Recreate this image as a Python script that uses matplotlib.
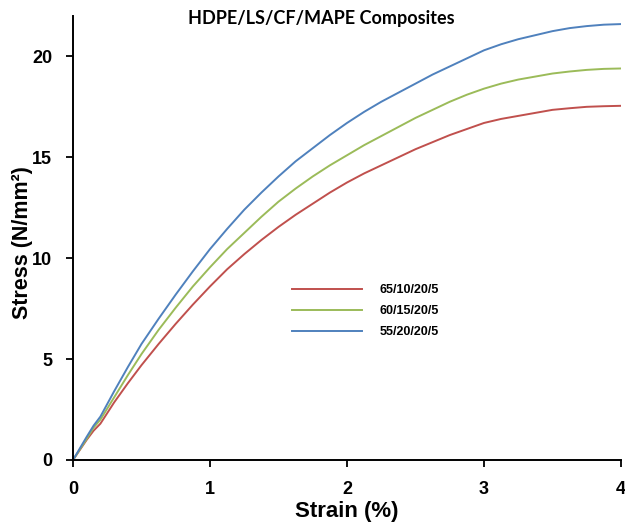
import matplotlib
matplotlib.use("Agg")
import matplotlib.pyplot as plt

strain = [0, 0.1, 0.15, 0.2, 0.3, 0.4, 0.5, 0.625, 0.75, 0.875, 1.0, 1.125, 1.25,
          1.375, 1.5, 1.625, 1.75, 1.875, 2.0, 2.125, 2.25, 2.375, 2.5, 2.625,
          2.75, 2.875, 3.0, 3.125, 3.25, 3.375, 3.5, 3.625, 3.75, 3.875, 4.0]
stress_65 = [0, 1.0, 1.45, 1.8, 2.85, 3.8, 4.7, 5.75, 6.75, 7.7, 8.6, 9.45, 10.2,
             10.9, 11.55, 12.15, 12.7, 13.25, 13.75, 14.2, 14.6, 15.0, 15.4, 15.75,
             16.1, 16.4, 16.7, 16.9, 17.05, 17.2, 17.35, 17.43, 17.5, 17.53, 17.55]
stress_60 = [0, 1.05, 1.6, 2.0, 3.1, 4.2, 5.25, 6.45, 7.55, 8.6, 9.55, 10.45, 11.25,
             12.05, 12.8, 13.45, 14.05, 14.6, 15.1, 15.6, 16.05, 16.5, 16.95, 17.35,
             17.75, 18.1, 18.4, 18.65, 18.85, 19.0, 19.15, 19.25, 19.33, 19.38, 19.4]
stress_55 = [0, 1.15, 1.7, 2.15, 3.4, 4.6, 5.75, 7.0, 8.2, 9.35, 10.45, 11.45, 12.4,
             13.25, 14.05, 14.8, 15.45, 16.1, 16.7, 17.25, 17.75, 18.2, 18.65, 19.1,
             19.5, 19.9, 20.3, 20.6, 20.85, 21.05, 21.25, 21.4, 21.5, 21.57, 21.6]
labels = ["65/10/20/5", "60/15/20/5", "55/20/20/5"]
colors = ["#C0504D", "#9BBB59", "#4F81BD"]
xticks = [0, 1, 2, 3, 4]
yticks = [0, 5, 10, 15, 20]

fig = plt.figure(figsize=(6.25, 5.25), dpi=100)
ax = fig.add_axes([73/625, 1-460/525, (621-73)/625, (460-16)/525])

for ys, lab, c in zip([stress_65, stress_60, stress_55], labels, colors):
    ax.plot(strain, ys, color=c, lw=1.4, label=lab)

ax.set_xlim(0, 4)
ax.set_ylim(0, 22)
ax.set_xticks(xticks)
ax.set_yticks(yticks)
for s in ["top", "right"]:
    ax.spines[s].set_visible(False)
for s in ["left", "bottom"]:
    ax.spines[s].set_linewidth(1.4)
    ax.spines[s].set_color("black")
ax.tick_params(direction="out", length=5, width=1.3, pad=10)
for t in ax.get_xticklabels() + ax.get_yticklabels():
    t.set_fontfamily("Liberation Sans")
    t.set_fontweight("bold")
    t.set_fontsize(13)

ax.set_xlabel("Strain (%)", fontsize=16, fontweight="bold",
              family="Liberation Sans", labelpad=2)
ax.set_ylabel("Stress (N/mm²)", fontsize=15.5, fontweight="bold",
              family="Liberation Sans")
ax.yaxis.set_label_coords(-0.073, 0.49)

ax.text(1.81, 21.9, "HDPE/LS/CF/MAPE Composites", ha="center", va="center",
        fontsize=13, fontweight="bold", family=["Lato", "DejaVu Sans"])

leg = ax.legend(loc="upper left", bbox_to_anchor=(292/625, 1-284/525),
                bbox_transform=fig.transFigure, frameon=False,
                prop={"family": "Liberation Sans", "weight": "bold", "size": 9},
                handlelength=5.6, handletextpad=1.4, labelspacing=0.72, borderpad=0,
                borderaxespad=0)

fig.savefig("out.png", dpi=100)
